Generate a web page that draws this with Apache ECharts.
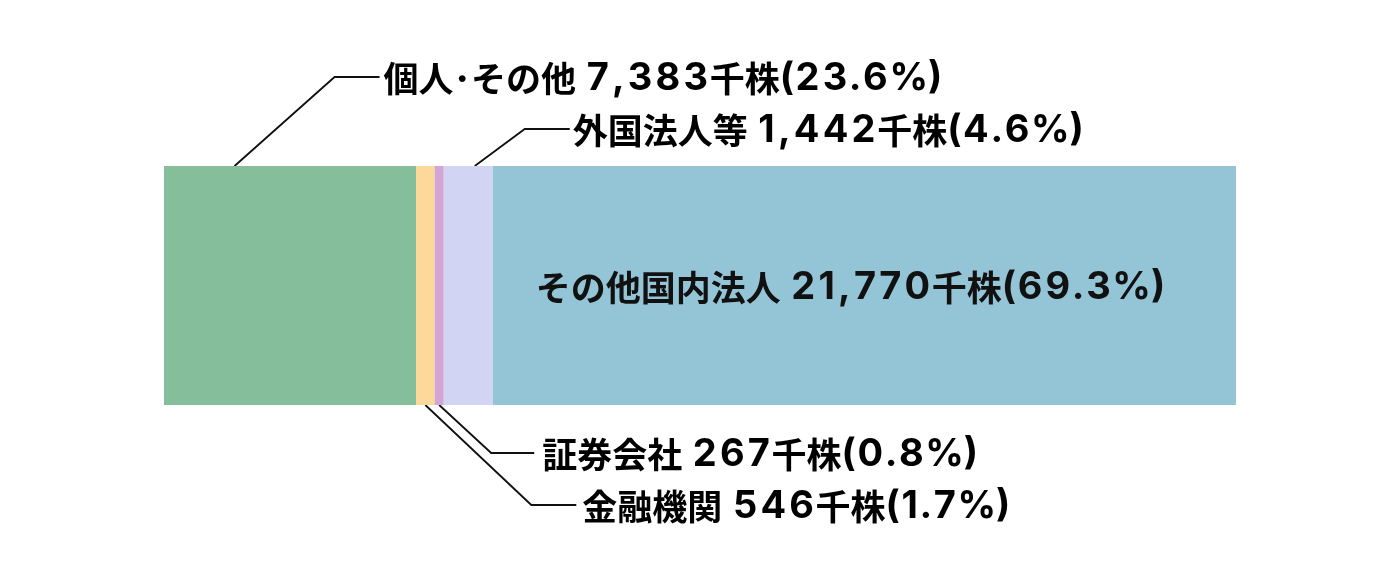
<!DOCTYPE html>
<html><head><meta charset="utf-8">
<script src="https://cdn.jsdelivr.net/npm/echarts@6/dist/echarts.min.js"></script>
<style>html,body{margin:0;padding:0;background:#fff}#c{width:1400px;height:586px}</style>
</head><body><div id="c"></div>
<script>
const categories = ['個人･その他','金融機関','証券会社','外国法人等','その他国内法人'];
const shares = [7383, 546, 267, 1442, 21770];
const percents = [23.6, 1.7, 0.8, 4.6, 69.3];
const unitLabel = '千株';
const colors = ['#85BE9B','#FDD89B','#D3A5D5','#D2D4F3','#93C5D6'];

const LATIN = "Inter, 'Noto Sans CJK JP', sans-serif";
const rich = {
  c:{fontFamily:"'Noto Sans CJK JP', sans-serif", fontSize:35, fontWeight:'bold', color:'#111', lineHeight:42, verticalAlign:'middle'},
  n:{fontFamily:LATIN, fontSize:38, fontWeight:'bold', color:'#111', lineHeight:42, verticalAlign:'middle'},
  d:{fontFamily:LATIN, fontSize:38, fontWeight:'bold', color:'#111', lineHeight:42, verticalAlign:'middle', padding:[0,1.6,0,1.6]}
};
function plain(i){ return categories[i] + ' ' + shares[i].toLocaleString('en-US') + unitLabel + '(' + percents[i].toFixed(1) + '%)'; }
function fmt(i){
  const s = plain(i);
  let out = '', cur = null, buf = '';
  const flush = () => { if (buf) out += '{' + cur + '|' + buf + '}'; buf = ''; };
  for (const ch of s) {
    const k = /[\u3000-\u9fff\uff00-\uffef]/.test(ch) ? 'c' : (/[0-9,]/.test(ch) ? 'd' : 'n');
    if (k === 'd') { flush(); cur = 'd'; buf = ch; flush(); cur = null; continue; }
    if (k !== cur) { flush(); cur = k; }
    buf += ch;
  }
  flush();
  return out;
}

const total = shares.reduce((a,b)=>a+b,0);
const chart = echarts.init(document.getElementById('c'), null, {renderer:'canvas'});
const series = categories.map((name,i)=>({
  name, type:'bar', stack:'all', barWidth:'100%', data:[shares[i]],
  itemStyle:{color:colors[i]},
  label: i===4 ? {show:true, position:'inside', offset:[-14,2], formatter:()=>fmt(i), rich} : {show:false},
  emphasis:{disabled:true}
}));
chart.setOption({
  animation:false,
  grid:{left:164, right:164, top:166, bottom:181},
  xAxis:{type:'value', min:0, max:total, show:false},
  yAxis:{type:'category', data:['total'], show:false},
  series
});

// leader label layout: segment, fraction inside segment, side, elbow offset, horizontal length, text gap
const callouts = [
  {i:0, frac:0.28, side:'top', dx:100, dy:-89, h:45, gap:4},
  {i:3, frac:0.63, side:'top', dx:50, dy:-37, h:45, gap:3},
  {i:2, frac:0.5, side:'bottom', dx:52, dy:48, h:43, gap:8},
  {i:1, frac:0.5, side:'bottom', dx:106, dy:100, h:45, gap:6}
];
const graphics = [];
callouts.forEach(c=>{
  const lay = chart.getModel().getSeriesByIndex(c.i).getData().getItemLayout(0);
  const ax = lay.x + lay.width*c.frac;
  const ay = c.side==='top' ? lay.y : lay.y + lay.height;
  const ex = ax + c.dx, ey = ay + c.dy;
  const hx = ex + c.h;
  graphics.push({type:'polyline', shape:{points:[[ax,ay],[ex,ey],[hx,ey]]}, style:{stroke:'#111', lineWidth:1.8, fill:null}, silent:true});
  graphics.push({type:'text', x:hx + c.gap, y:ey + 2, style:{text:fmt(c.i), rich, verticalAlign:'middle'}, silent:true});
});
chart.setOption({graphic:graphics});
</script></body></html>
